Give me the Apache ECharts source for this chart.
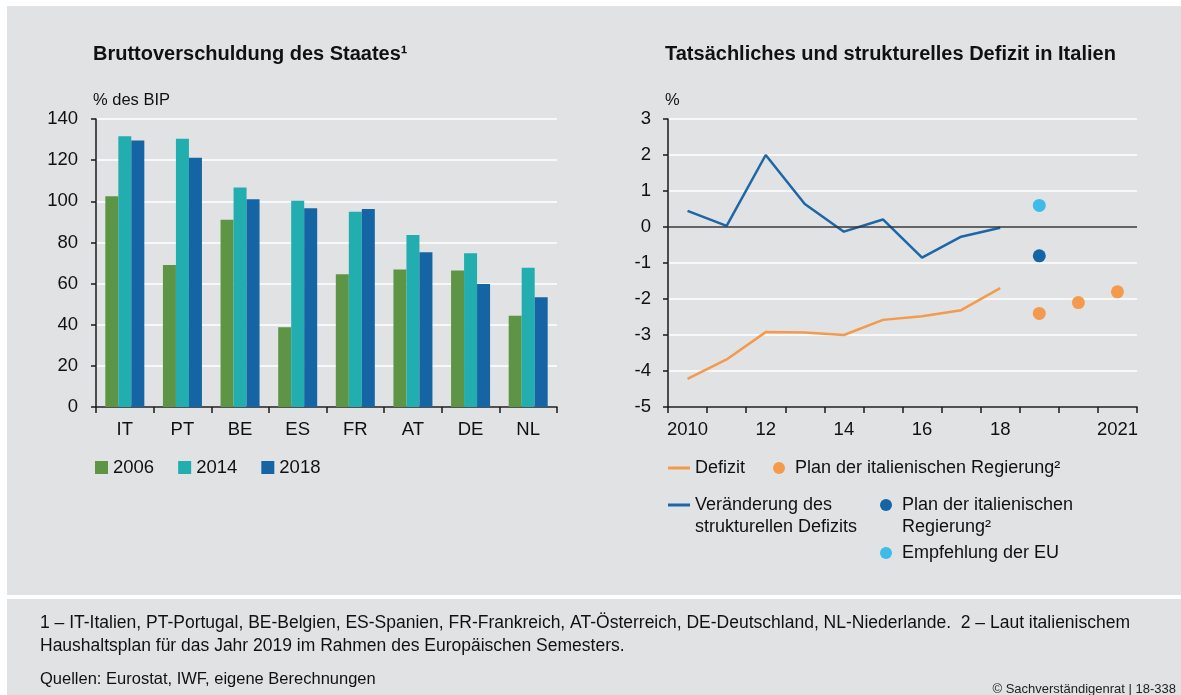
<!DOCTYPE html>
<html>
<head>
<meta charset="utf-8">
<title>Bruttoverschuldung / Defizit Italien</title>
<script src="https://cdn.jsdelivr.net/npm/echarts@6/dist/echarts.min.js"></script>
<style>
  html, body { margin: 0; padding: 0; background: #fff; }
  #chart { width: 1181px; height: 695px; }
</style>
</head>
<body>
<div id="chart"></div>
<script>
// linkes Bild: Bruttoverschuldung in % des BIP
var countries = ['IT', 'PT', 'BE', 'ES', 'FR', 'AT', 'DE', 'NL'];
var debt2006 = [102.5, 69.0, 91.0, 38.8, 64.5, 66.9, 66.4, 44.3];
var debt2014 = [131.6, 130.4, 106.7, 100.2, 94.9, 83.6, 74.7, 67.7];
var debt2018 = [129.6, 121.2, 101.0, 96.6, 96.3, 75.2, 59.8, 53.3];

// rechtes Bild: Defizit Italien in %
var years = ['2010', '2011', '2012', '2013', '2014', '2015', '2016', '2017', '2018', '2019', '2020', '2021'];
var yearLabels = ['2010', '', '12', '', '14', '', '16', '', '18', '', '', '2021'];
var defizit = [-4.22, -3.68, -2.92, -2.93, -3.0, -2.58, -2.48, -2.31, -1.7];
var strukturell = [0.45, 0.03, 2.0, 0.64, -0.13, 0.21, -0.85, -0.27, -0.02];
var planYears = ['2019', '2020', '2021'];
var planDefizit = [-2.4, -2.1, -1.8];
var planStrukturell = [-0.8];
var empfehlungEU = [0.6];

var font = 'Liberation Sans, Arial, sans-serif';
var gridLine = { show: true, lineStyle: { color: '#ffffff', width: 1.5 } };
var blackAxis = { show: true, onZero: false, lineStyle: { color: '#1a1a1a', width: 1.5 } };
var blackTick = { color: '#1a1a1a', width: 1.5 };

// Legenden-Icons: kurze Linie bzw. Punkt, bei zweizeiligem Text an die erste Zeile geschoben
var lineIcon = 'path://M0,0L22,0L22,3L0,3Z';
var lineIconTop = 'path://M0,0L22,0L22,3L0,3Z M0,25L0,25';
var dotIconTop = 'path://M0,6A6,6,0,1,1,12,6A6,6,0,1,1,0,6Z M6,34L6,34';

function pairs(xs, vs) {
    var out = [];
    for (var i = 0; i < vs.length; i++) {
        out.push([xs[i], vs[i]]);
    }
    return out;
}

var legendText = { fontSize: 18, color: '#111', fontFamily: font };
var legendText2 = { fontSize: 18, lineHeight: 22, color: '#111', fontFamily: font };

var option = {
    backgroundColor: '#ffffff',
    animation: false,
    textStyle: { fontFamily: font },
    title: [
        {
            text: 'Bruttoverschuldung des Staates¹',
            left: 93, top: 44, padding: 0,
            textStyle: { fontSize: 20, fontWeight: 'bold', color: '#111', fontFamily: font }
        },
        {
            text: 'Tatsächliches und strukturelles Defizit in Italien',
            left: 665, top: 44, padding: 0,
            textStyle: { fontSize: 20, fontWeight: 'bold', color: '#111', fontFamily: font }
        }
    ],
    graphic: [
        { type: 'rect', z: -100, silent: true, shape: { x: 7, y: 6, width: 1174, height: 589 }, style: { fill: '#e1e2e4' } },
        { type: 'rect', z: -100, silent: true, shape: { x: 7, y: 599, width: 1174, height: 96 }, style: { fill: '#e1e2e4' } },
        {
            type: 'text', silent: true, x: 40, y: 623,
            style: {
                text: '1 – IT-Italien, PT-Portugal, BE-Belgien, ES-Spanien, FR-Frankreich, AT-Österreich, DE-Deutschland, NL-Niederlande.  2 – Laut italienischem',
                fontSize: 17.5, fontFamily: font, fill: '#111', verticalAlign: 'middle'
            }
        },
        {
            type: 'text', silent: true, x: 40, y: 646,
            style: {
                text: 'Haushaltsplan für das Jahr 2019 im Rahmen des Europäischen Semesters.',
                fontSize: 17.5, fontFamily: font, fill: '#111', verticalAlign: 'middle'
            }
        },
        {
            type: 'text', silent: true, x: 40, y: 679,
            style: {
                text: 'Quellen: Eurostat, IWF, eigene Berechnungen',
                fontSize: 16.5, fontFamily: font, fill: '#111', verticalAlign: 'middle'
            }
        },
        {
            type: 'text', silent: true, x: 1176, y: 689,
            style: {
                text: '© Sachverständigenrat | 18-338',
                fontSize: 13, fontFamily: font, fill: '#222', align: 'right', verticalAlign: 'middle'
            }
        }
    ],
    legend: [
        {
            data: ['2006', '2014', '2018'],
            left: 95, top: 458, padding: 0,
            icon: 'rect', itemWidth: 13, itemHeight: 13, itemGap: 24,
            textStyle: { fontSize: 18.5, color: '#111', fontFamily: font }
        },
        {
            data: [{ name: 'Defizit', icon: lineIcon }, 'Plan der italienischen Regierung²'],
            left: 668, top: 459, padding: 0,
            itemWidth: 22, itemHeight: 12, itemGap: 28,
            textStyle: legendText
        },
        {
            data: [{ name: 'Veränderung des\nstrukturellen Defizits', icon: lineIconTop }],
            left: 668, top: 494, padding: 0,
            itemWidth: 22, itemHeight: 25,
            textStyle: legendText2
        },
        {
            data: [{ name: 'Plan der italienischen\nRegierung²', icon: dotIconTop }],
            left: 880, top: 494, padding: 0,
            itemWidth: 22, itemHeight: 34,
            textStyle: legendText2
        },
        {
            data: ['Empfehlung der EU'],
            left: 880, top: 544, padding: 0,
            itemWidth: 22, itemHeight: 12,
            textStyle: legendText
        }
    ],
    grid: [
        { left: 96, right: 624, top: 119, bottom: 288 },
        { left: 668, right: 44, top: 119, bottom: 288 }
    ],
    xAxis: [
        {
            type: 'category', gridIndex: 0, data: countries,
            axisLine: blackAxis,
            axisTick: { show: true, length: 6, lineStyle: blackTick },
            axisLabel: { fontSize: 18.5, color: '#111', margin: 13 },
            splitLine: { show: false }
        },
        {
            type: 'category', gridIndex: 1, data: years,
            axisLine: blackAxis,
            axisTick: { show: true, length: 6, interval: 0, lineStyle: blackTick },
            axisLabel: {
                fontSize: 18.5, color: '#111', margin: 13, interval: 0,
                formatter: function (v, i) { return yearLabels[i]; }
            },
            splitLine: { show: false }
        }
    ],
    yAxis: [
        {
            type: 'value', gridIndex: 0, min: 0, max: 140, interval: 20,
            name: '% des BIP', nameLocation: 'end', nameGap: 19,
            nameTextStyle: { fontSize: 16.5, color: '#111', align: 'left', verticalAlign: 'middle', padding: [0, 0, 0, -3] },
            axisLine: blackAxis,
            axisTick: { show: true, length: 5, lineStyle: blackTick },
            axisLabel: { fontSize: 18.5, color: '#111', margin: 18 },
            splitLine: gridLine
        },
        {
            type: 'value', gridIndex: 1, min: -5, max: 3, interval: 1,
            name: '%', nameLocation: 'end', nameGap: 19,
            nameTextStyle: { fontSize: 16.5, color: '#111', align: 'left', verticalAlign: 'middle', padding: [0, 0, 0, -3] },
            axisLine: blackAxis,
            axisTick: { show: true, length: 5, lineStyle: blackTick },
            axisLabel: { fontSize: 18.5, color: '#111', margin: 17 },
            splitLine: gridLine
        }
    ],
    series: [
        {
            name: '2006', type: 'bar', xAxisIndex: 0, yAxisIndex: 0,
            data: debt2006, barWidth: 13, barGap: '0%',
            itemStyle: { color: '#5e9445' }
        },
        {
            name: '2014', type: 'bar', xAxisIndex: 0, yAxisIndex: 0,
            data: debt2014, barWidth: 13, barGap: '0%',
            itemStyle: { color: '#22adaf' }
        },
        {
            name: '2018', type: 'bar', xAxisIndex: 0, yAxisIndex: 0,
            data: debt2018, barWidth: 13, barGap: '0%',
            itemStyle: { color: '#1565a4' }
        },
        {
            name: 'Defizit', type: 'line', xAxisIndex: 1, yAxisIndex: 1,
            data: defizit, symbol: 'none',
            lineStyle: { color: '#f39a4c', width: 2.5 },
            itemStyle: { color: '#f39a4c' }
        },
        {
            name: 'Veränderung des\nstrukturellen Defizits', type: 'line', xAxisIndex: 1, yAxisIndex: 1,
            data: strukturell, symbol: 'none',
            lineStyle: { color: '#1d66a8', width: 2.5 },
            itemStyle: { color: '#1d66a8' },
            z: 3,
            markLine: {
                silent: true, symbol: ['none', 'none'], label: { show: false },
                lineStyle: { color: '#333', width: 1.5, type: 'solid' },
                data: [{ yAxis: 0 }]
            }
        },
        {
            name: 'Plan der italienischen Regierung²', type: 'scatter', xAxisIndex: 1, yAxisIndex: 1,
            data: pairs(planYears, planDefizit), symbolSize: 13,
            itemStyle: { color: '#f39a4c', opacity: 1 }
        },
        {
            name: 'Plan der italienischen\nRegierung²', type: 'scatter', xAxisIndex: 1, yAxisIndex: 1,
            data: pairs(planYears, planStrukturell), symbolSize: 13,
            itemStyle: { color: '#1565a4', opacity: 1 }
        },
        {
            name: 'Empfehlung der EU', type: 'scatter', xAxisIndex: 1, yAxisIndex: 1,
            data: pairs(planYears, empfehlungEU), symbolSize: 13,
            itemStyle: { color: '#3dbce8', opacity: 1 }
        }
    ]
};

var myChart = echarts.init(document.getElementById('chart'));
myChart.setOption(option);
</script>
</body>
</html>
